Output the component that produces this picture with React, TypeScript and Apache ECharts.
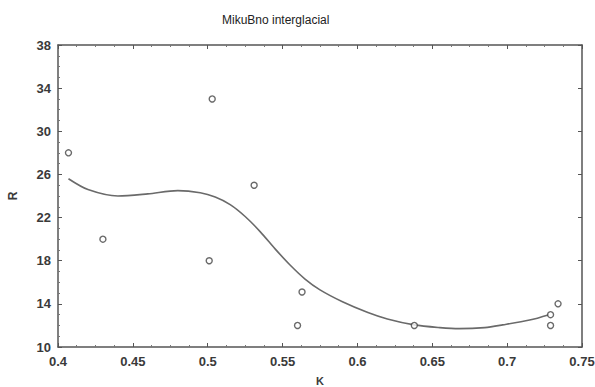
import React, { useEffect, useRef } from "react";
import * as echarts from "echarts";

// Observed samples (K, R)
const sampleK = [0.407, 0.43, 0.503, 0.501, 0.531, 0.563, 0.56, 0.638, 0.729, 0.729, 0.734];
const sampleR = [28, 20, 33, 18, 25, 15.1, 12, 12, 13, 12, 14];

// Smoothed trend (K, R)
const trendK = [0.407, 0.42, 0.44, 0.46, 0.48, 0.495, 0.505, 0.515, 0.525, 0.535, 0.545, 0.555, 0.565, 0.575, 0.59, 0.607, 0.62, 0.638, 0.655, 0.668, 0.685, 0.697, 0.715, 0.728];
const trendR = [25.6, 24.6, 24.0, 24.2, 24.5, 24.3, 23.9, 23.2, 22.1, 20.7, 19.1, 17.6, 16.3, 15.3, 14.2, 13.2, 12.6, 12.05, 11.8, 11.7, 11.8, 12.05, 12.5, 13.0];

const TITLE = "MikuBno interglacial";
const X_NAME = "K";
const Y_NAME = "R";

export default function App() {
  const ref = useRef<HTMLDivElement>(null);

  useEffect(() => {
    if (!ref.current) return;
    const chart = echarts.init(ref.current, null, { renderer: "svg" });
    const ink = "#3a3a3a";
    const labelStyle = {
      color: ink,
      fontFamily: "Liberation Sans, Arial, sans-serif",
      fontWeight: "bold" as const,
      fontSize: 13,
    };
    const lineStyle = { color: "#555", width: 1.5 };
    const tick = { show: true, inside: true, length: 4, lineStyle: { color: "#555" } };
    const minor = { show: true, splitNumber: 4, length: 2, lineStyle: { color: "#777" } };
    chart.setOption({
      animation: false,
      backgroundColor: "#fff",
      title: {
        text: TITLE,
        left: 217,
        top: 9,
        textStyle: {
          fontFamily: "Liberation Sans, Arial, sans-serif",
          fontSize: 12,
          fontWeight: 500,
          color: "#222",
        },
      },
      grid: {
        left: 58,
        right: 13,
        top: 45,
        bottom: 40,
        show: false,
        containLabel: false,
        outerBoundsMode: "none",
      },
      xAxis: [
        {
          type: "value",
          min: 0.4,
          max: 0.75,
          interval: 0.05,
          name: X_NAME,
          nameLocation: "middle",
          nameGap: 28,
          nameTextStyle: { ...labelStyle, fontSize: 11 },
          axisLine: { show: true, lineStyle },
          axisTick: tick,
          minorTick: minor,
          axisLabel: {
            ...labelStyle,
            margin: 8,
            formatter: (v: number) => String(parseFloat(v.toFixed(2))),
          },
          splitLine: { show: false },
        },
        {
          type: "value",
          position: "top",
          min: 0.4,
          max: 0.75,
          interval: 0.05,
          axisLine: { show: true, lineStyle },
          axisTick: tick,
          minorTick: minor,
          axisLabel: { show: false },
          splitLine: { show: false },
        },
      ],
      yAxis: [
        {
          type: "value",
          min: 10,
          max: 38,
          interval: 4,
          name: Y_NAME,
          nameLocation: "middle",
          nameGap: 39,
          nameRotate: 90,
          nameTextStyle: { ...labelStyle, fontSize: 12 },
          axisLine: { show: true, lineStyle },
          axisTick: tick,
          minorTick: minor,
          axisLabel: { ...labelStyle, margin: 7 },
          splitLine: { show: false },
        },
        {
          type: "value",
          position: "right",
          min: 10,
          max: 38,
          interval: 4,
          axisLine: { show: true, lineStyle },
          axisTick: tick,
          axisLabel: { show: false },
          splitLine: { show: false },
        },
      ],
      series: [
        {
          name: "trend",
          type: "line",
          smooth: 0.3,
          showSymbol: false,
          symbol: "none",
          data: trendK.map((k, i) => [k, trendR[i]]),
          lineStyle: { color: "#6a6a6a", width: 1.6 },
          z: 2,
        },
        {
          name: "samples",
          type: "scatter",
          symbol: "circle",
          symbolSize: 6,
          data: sampleK.map((k, i) => [k, sampleR[i]]),
          itemStyle: { color: "#fff", borderColor: "#444", borderWidth: 1.4 },
          z: 3,
        },
      ],
    });
    return () => chart.dispose();
  }, []);

  return (
    <div
      ref={ref}
      style={{ position: "absolute", left: 0, top: 0, width: 595, height: 387 }}
    />
  );
}
